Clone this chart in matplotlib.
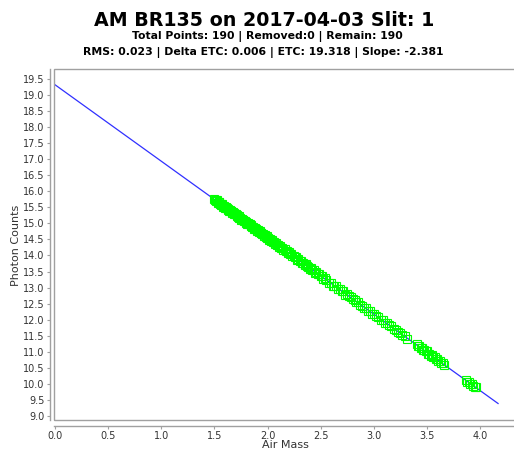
import matplotlib
matplotlib.use("Agg")
import matplotlib.pyplot as plt
from matplotlib.patches import Rectangle

title = "AM BR135 on 2017-04-03 Slit: 1"
subtitle1 = "Total Points: 190 | Removed:0 | Remain: 190"
subtitle2 = "RMS: 0.023 | Delta ETC: 0.006 | ETC: 19.318 | Slope: -2.381"
x_label = "Air Mass"
y_label = "Photon Counts"

air_mass = [
    1.500, 1.506, 1.513, 1.519, 1.526, 1.532, 1.539, 1.545, 1.552, 1.558,
    1.565, 1.571, 1.578, 1.585, 1.591, 1.598, 1.605, 1.611, 1.618, 1.625,
    1.632, 1.638, 1.645, 1.652, 1.659, 1.666, 1.673, 1.680, 1.687, 1.694,
    1.701, 1.708, 1.715, 1.722, 1.729, 1.736, 1.744, 1.751, 1.758, 1.765,
    1.773, 1.780, 1.787, 1.795, 1.802, 1.810, 1.817, 1.825, 1.832, 1.840,
    1.847, 1.855, 1.863, 1.870, 1.878, 1.886, 1.894, 1.902, 1.910, 1.918,
    1.926, 1.934, 1.942, 1.950, 1.958, 1.966, 1.974, 1.983, 1.991, 1.999,
    2.008, 2.017, 2.026, 2.035, 2.044, 2.053, 2.062, 2.072, 2.081, 2.091,
    2.100, 2.110, 2.120, 2.130, 2.140, 2.150, 2.160, 2.170, 2.181, 2.191,
    2.202, 2.212, 2.223, 2.234, 2.245, 2.256, 2.267, 2.278, 2.290, 2.301,
    2.313, 2.324, 2.336, 2.348, 2.360, 2.372, 2.384, 2.396, 2.409, 2.421,
    2.434, 2.447, 2.460, 2.473, 2.486, 2.499, 2.512, 2.526, 2.540, 2.553,
    2.582, 2.598, 2.614, 2.630, 2.647, 2.663, 2.680, 2.697, 2.714, 2.731,
    2.748, 2.766, 2.783, 2.801, 2.819, 2.837, 2.855, 2.873, 2.892, 2.910,
    2.929, 2.948, 2.967, 2.986, 3.005, 3.025, 3.044, 3.064, 3.084, 3.104,
    3.124, 3.145, 3.165, 3.186, 3.207, 3.228, 3.249, 3.270, 3.292, 3.314,
    3.405, 3.416, 3.428, 3.440, 3.451, 3.463, 3.475, 3.487, 3.499, 3.511,
    3.523, 3.535, 3.547, 3.559, 3.572, 3.584, 3.597, 3.609, 3.622, 3.634,
    3.647, 3.660,
    3.868, 3.882, 3.895, 3.909, 3.923, 3.937, 3.951, 3.966,
]

photon_counts = [
    15.759, 15.714, 15.741, 15.695, 15.716, 15.648, 15.658, 15.656, 15.594, 15.617,
    15.579, 15.598, 15.526, 15.550, 15.545, 15.489, 15.525, 15.471, 15.469, 15.430,
    15.446, 15.391, 15.420, 15.377, 15.401, 15.336, 15.342, 15.287, 15.323, 15.281,
    15.279, 15.225, 15.253, 15.206, 15.230, 15.165, 15.171, 15.116, 15.148, 15.107,
    15.121, 15.063, 15.065, 15.016, 15.047, 14.994, 15.022, 14.966, 14.969, 14.914,
    14.947, 14.891, 14.888, 14.836, 14.865, 14.822, 14.831, 14.768, 14.780, 14.735,
    14.764, 14.688, 14.697, 14.663, 14.677, 14.603, 14.633, 14.589, 14.603, 14.539,
    14.554, 14.494, 14.503, 14.442, 14.475, 14.424, 14.421, 14.358, 14.398, 14.325,
    14.322, 14.275, 14.298, 14.237, 14.239, 14.166, 14.196, 14.147, 14.136, 14.076,
    14.105, 14.035, 14.031, 13.978, 13.992, 13.938, 13.946, 13.864, 13.878, 13.834,
    13.833, 13.767, 13.764, 13.701, 13.730, 13.658, 13.645, 13.590, 13.599, 13.546,
    13.548, 13.460, 13.471, 13.415, 13.427, 13.365, 13.351, 13.280, 13.290, 13.228,
    13.156, 13.155, 13.064, 13.064, 13.035, 12.956, 12.942, 12.884, 12.883, 12.782,
    12.790, 12.725, 12.714, 12.631, 12.616, 12.538, 12.551, 12.468, 12.436, 12.369,
    12.370, 12.286, 12.271, 12.180, 12.174, 12.112, 12.094, 12.004, 11.982, 11.896,
    11.900, 11.820, 11.811, 11.716, 11.685, 11.608, 11.600, 11.526, 11.501, 11.412,
    11.233, 11.174, 11.186, 11.107, 11.107, 11.046, 11.060, 11.012, 11.012, 10.940,
    10.939, 10.870, 10.892, 10.836, 10.840, 10.763, 10.766, 10.711, 10.715, 10.636,
    10.650, 10.598,
    10.126, 10.050, 10.056, 10.002, 10.004, 9.928, 9.917, 9.896,
]

fit_x = [0.0, 4.17]
fit_y = [19.318, 9.389]

x_ticks = [0.0, 0.5, 1.0, 1.5, 2.0, 2.5, 3.0, 3.5, 4.0]
y_ticks = [9.0, 9.5, 10.0, 10.5, 11.0, 11.5, 12.0, 12.5, 13.0, 13.5, 14.0,
           14.5, 15.0, 15.5, 16.0, 16.5, 17.0, 17.5, 18.0, 18.5, 19.0, 19.5]

W, H = 514, 451
fig = plt.figure(figsize=(W / 100, H / 100), dpi=100)
fig.patch.set_facecolor("white")
ax = fig.add_axes([54 / W, 1 - 420 / H, (514 - 54) / W, (420 - 69) / H])
ax.set_facecolor("white")

ax.plot(fit_x, fit_y, color="#3030ff", lw=0.9, zorder=2)
ax.plot(air_mass, photon_counts, linestyle="none", marker="s", markersize=5.6,
        markerfacecolor="none", markeredgecolor="#00ff00", markeredgewidth=0.8, zorder=3)

ax.set_xlim(-0.01, 4.32)
ax.set_ylim(8.875, 19.81)
ax.set_xticks(x_ticks)
ax.set_yticks(y_ticks)
ax.set_xticklabels([f"{v:.1f}" for v in x_ticks])
ax.set_yticklabels([f"{v:.1f}" for v in y_ticks])

gray = "#a0a0a0"
for s in ["top", "right"]:
    ax.spines[s].set_visible(False)
ax.spines["left"].set_position(("outward", 3))
ax.spines["bottom"].set_position(("outward", 4))
ax.spines["left"].set_color(gray)
ax.spines["bottom"].set_color(gray)
ax.spines["left"].set_linewidth(1.0)
ax.spines["bottom"].set_linewidth(1.0)
ax.add_patch(Rectangle((0, 0), 1.2, 1, transform=ax.transAxes, fill=False,
                       edgecolor=gray, lw=1.0, clip_on=False, zorder=5))

ax.tick_params(axis="both", direction="out", length=2, width=0.8, color=gray,
               labelsize=7, labelcolor="#333333", pad=2)

fig.text(285 / W, 1 - 445 / H, x_label, ha="center", va="center", fontsize=8, color="#333333")
fig.text(16 / W, 1 - 245 / H, y_label, ha="center", va="center", rotation=90, fontsize=8, color="#333333")

fig.text(264 / W, 1 - 20 / H, title, ha="center", va="center", fontsize=13.7, fontweight="bold", color="black")
fig.text(267 / W, 1 - 37 / H, subtitle1, ha="center", va="center", fontsize=7.8, fontweight="bold", color="black")
fig.text(263 / W, 1 - 52 / H, subtitle2, ha="center", va="center", fontsize=7.8, fontweight="bold", color="black")

fig.savefig("out.png", dpi=100, facecolor="white")
